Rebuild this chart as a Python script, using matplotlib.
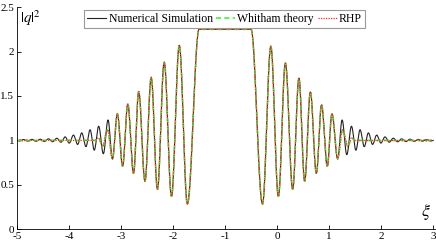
import numpy as np
import matplotlib
matplotlib.use("Agg")
import matplotlib.pyplot as plt

# extrema (x, |q|^2)
# shared dispersive-shock core (all three curves agree here)
core_x = [-3.07, -2.97, -2.87, -2.76, -2.66, -2.54, -2.42, -2.30, -2.17, -2.03,
          -1.88, -1.725, -1.50, -0.50, -0.28, -0.12, 0.025, 0.16, 0.30, 0.42,
          0.53, 0.64, 0.755, 0.855, 0.965, 1.055]
core_y = [1.30, 0.71, 1.41, 0.63, 1.55, 0.54, 1.71, 0.45, 1.88, 0.37,
          2.07, 0.285, 2.25, 2.25, 0.285, 2.06, 0.37, 1.87, 0.45, 1.70,
          0.54, 1.545, 0.63, 1.40, 0.71, 1.30]

# numerical simulation tails
num_left_x = [-5.0, -4.955, -4.875, -4.795, -4.715, -4.635, -4.555, -4.475, -4.395,
              -4.315, -4.235, -4.155, -4.075, -3.995, -3.915, -3.835, -3.755, -3.675,
              -3.595, -3.515, -3.43, -3.34, -3.25, -3.165]
num_left_y = [1.0, 0.993, 1.01, 0.992, 1.012, 0.99, 1.014, 0.988, 1.018,
              0.985, 1.025, 0.98, 1.04, 0.97, 1.06, 0.955, 1.085, 0.93,
              1.12, 0.89, 1.16, 0.85, 1.23, 0.79]
num_right_x = [1.165, 1.25, 1.34, 1.43, 1.515, 1.595, 1.675, 1.755, 1.835, 1.915,
               1.995, 2.075, 2.155, 2.235, 2.315, 2.395, 2.475, 2.555, 2.635, 2.715,
               2.795, 2.875, 2.955, 3.0]
num_right_y = [0.79, 1.23, 0.84, 1.16, 0.89, 1.12, 0.93, 1.085, 0.955, 1.06,
               0.97, 1.04, 0.98, 1.025, 0.985, 1.018, 0.988, 1.014, 0.99, 1.012,
               0.992, 1.01, 0.993, 1.0]

# Whitham / RHP edges of the shock
th_left_x = [-5.0, -3.50, -3.43, -3.36, -3.26, -3.165]
th_left_y = [1.0, 1.0, 1.03, 0.93, 1.12, 0.80]
th_right_x = [1.165, 1.26, 1.36, 1.43, 1.50, 3.0]
th_right_y = [0.80, 1.12, 0.93, 1.03, 1.0, 1.0]

# small RHP wiggles at the far ends
rhp_left_x = [-5.0, -4.94, -4.88, -4.82, -4.76, -4.70, -4.64, -4.58, -4.52, -4.46]
rhp_left_y = [1.0, 1.008, 0.993, 1.007, 0.994, 1.006, 0.995, 1.004, 0.997, 1.0]
rhp_right_x = [2.46, 2.52, 2.58, 2.64, 2.70, 2.76, 2.82, 2.88, 2.94, 3.0]
rhp_right_y = [1.0, 0.997, 1.004, 0.995, 1.006, 0.994, 1.007, 0.993, 1.008, 1.0]

xticks = [-5, -4, -3, -2, -1, 0, 1, 2, 3]
yticks = [0, 0.5, 1, 1.5, 2, 2.5]
ytick_labels = ["0", "0.5", "1", "1.5", "2", "2.5"]


def smooth(xs, ys, n=30):
    # join neighbouring extrema with half cosine arcs
    ox, oy = [], []
    for i in range(len(xs) - 1):
        t = np.linspace(0, 1, n, endpoint=False)
        ox.append(xs[i] + (xs[i + 1] - xs[i]) * t)
        oy.append(ys[i] + (ys[i + 1] - ys[i]) * (1 - np.cos(np.pi * t)) / 2)
    ox.append([xs[-1]])
    oy.append([ys[-1]])
    return np.concatenate(ox), np.concatenate(oy)


plt.rcParams['font.family'] = ['Liberation Serif', 'DejaVu Serif']
plt.rcParams['mathtext.fontset'] = 'stix'
plt.rcParams['axes.unicode_minus'] = False

fig = plt.figure(figsize=(4.36, 2.45), dpi=100)
ax = fig.add_axes([0.039, 0.064, 0.958, 0.907])

nx_, ny_ = smooth(num_left_x + core_x + num_right_x, num_left_y + core_y + num_right_y)
wx, wy = smooth(th_left_x + core_x + th_right_x, th_left_y + core_y + th_right_y)
rx, ry = smooth(rhp_left_x + th_left_x[1:] + core_x + th_right_x[:-1] + rhp_right_x,
                rhp_left_y + th_left_y[1:] + core_y + th_right_y[:-1] + rhp_right_y)

ax.plot(nx_, ny_, color='#222222', lw=0.8, label='Numerical Simulation')
ax.plot(wx, wy, color='#44ee44', lw=1.2, ls=(0, (3, 2)), label='Whitham theory')
ax.plot(rx, ry, color='#ff2a2a', lw=0.9, ls=(0, (1, 1)), label='RHP')

ax.set_xlim(-5, 3.03)
ax.set_ylim(0, 2.5)
ax.set_xticks(xticks)
ax.set_yticks(yticks)
ax.set_yticklabels(ytick_labels)
ax.tick_params(direction='in', length=3, width=0.6, labelsize=8, pad=2)
for s in ['top', 'right']:
    ax.spines[s].set_visible(False)
for s in ['left', 'bottom']:
    ax.spines[s].set_linewidth(0.6)

ax.text(0.008, 0.995, r'$|q|^2$', transform=ax.transAxes, ha='left', va='top', fontsize=11)
ax.text(0.992, 0.035, r'$\xi$', transform=ax.transAxes, ha='right', va='bottom', fontsize=13)

leg = ax.legend(loc='upper center', bbox_to_anchor=(0.497, 0.985), ncol=3, fontsize=8.5,
                handlelength=1.6, handletextpad=0.2, columnspacing=0.3, borderpad=0.25,
                borderaxespad=0, fancybox=False, framealpha=1)
leg.get_frame().set_edgecolor('#999999')
leg.get_frame().set_linewidth(0.8)

fig.savefig('out.png', dpi=100)
